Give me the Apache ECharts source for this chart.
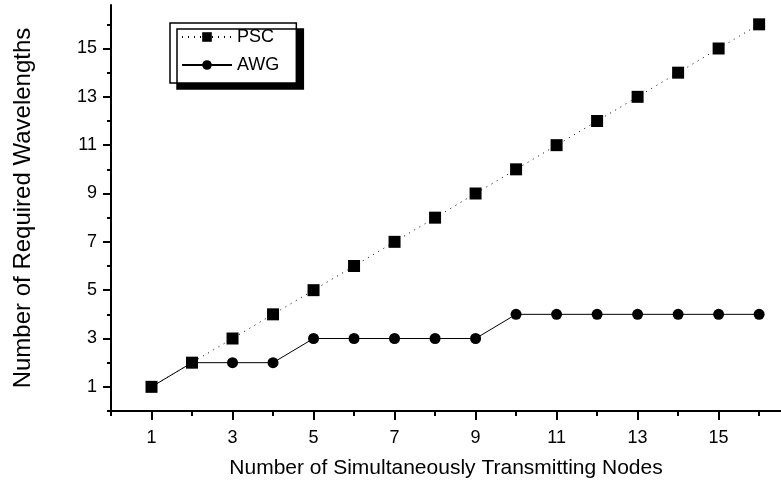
<!DOCTYPE html>
<html>
<head>
<meta charset="utf-8">
<script src="https://cdn.jsdelivr.net/npm/echarts@6/dist/echarts.min.js"></script>
<style>
  html, body { margin: 0; padding: 0; background: #fff; }
  #chart { width: 781px; height: 489px; }
</style>
</head>
<body>
<div id="chart"></div>
<script>
const nodes = [1, 2, 3, 4, 5, 6, 7, 8, 9, 10, 11, 12, 13, 14, 15, 16];
const pscValues = [1, 2, 3, 4, 5, 6, 7, 8, 9, 10, 11, 12, 13, 14, 15, 16];
const awgValues = [1, 2, 2, 2, 3, 3, 3, 3, 3, 4, 4, 4, 4, 4, 4, 4];
const majorTicks = [1, 3, 5, 7, 9, 11, 13, 15];
const minorX = [0, 2, 4, 6, 8, 10, 12, 14, 16];
const minorY = [0, 2, 4, 6, 8, 10, 12, 14, 16];

const font = 'Liberation Sans, Arial, sans-serif';
const pair = function (vals) {
  return nodes.map(function (x, i) { return [x, vals[i]]; });
};

const chartDom = document.getElementById('chart');
const mychart = echarts.init(chartDom);

const hiddenAxis = function (extra) {
  return Object.assign({
    type: 'value',
    gridIndex: 0,
    min: 0,
    interval: 1,
    axisLine: { show: false },
    axisLabel: { show: false },
    splitLine: { show: false },
  }, extra);
};

const option = {
  animation: false,
  grid: { left: 111, right: 0, top: 5, bottom: 78, containLabel: false },
  legend: {
    orient: 'vertical',
    left: 170,
    top: 23,
    padding: [4, 17, 8, 11],
    itemGap: 8,
    itemWidth: 50,
    itemHeight: 12,
    backgroundColor: '#fff',
    borderColor: '#000',
    borderWidth: 1.5,
    borderRadius: 0,
    shadowColor: '#000',
    shadowBlur: 0,
    shadowOffsetX: 7,
    shadowOffsetY: 6,
    textStyle: { fontFamily: font, fontSize: 18, color: '#000', lineHeight: 20 },
    data: ['PSC', 'AWG'],
  },
  xAxis: [{
    type: 'value',
    min: 0,
    max: 16.54,
    interval: 1,
    name: 'Number of Simultaneously Transmitting Nodes',
    nameLocation: 'middle',
    nameGap: 47,
    nameTextStyle: { fontFamily: font, fontSize: 21, color: '#000' },
    axisLine: { onZero: false, lineStyle: { color: '#000', width: 2 } },
    axisTick: { inside: false, length: 9, customValues: majorTicks, lineStyle: { color: '#000', width: 2 } },
    axisLabel: { customValues: majorTicks, fontFamily: font, fontSize: 18, color: '#000', margin: 18, hideOverlap: false },
    splitLine: { show: false },
  }, hiddenAxis({
    max: 16.54,
    position: 'bottom',
    axisTick: { inside: false, length: 5, customValues: minorX, lineStyle: { color: '#000', width: 2 } },
  })],
  yAxis: [{
    type: 'value',
    min: 0,
    max: 16.8,
    interval: 1,
    name: 'Number of Required Wavelengths',
    nameLocation: 'middle',
    nameGap: 76,
    nameTextStyle: { fontFamily: font, fontSize: 24, color: '#000' },
    axisLine: { onZero: false, lineStyle: { color: '#000', width: 2 } },
    axisTick: { inside: false, length: 8, customValues: majorTicks, lineStyle: { color: '#000', width: 2 } },
    axisLabel: { customValues: majorTicks, fontFamily: font, fontSize: 18, color: '#000', margin: 14, hideOverlap: false },
    splitLine: { show: false },
  }, hiddenAxis({
    max: 16.8,
    position: 'left',
    axisTick: { inside: false, length: 4, customValues: minorY, lineStyle: { color: '#000', width: 2 } },
  })],
  series: [{
    name: 'AWG',
    type: 'line',
    data: pair(awgValues),
    symbol: 'circle',
    symbolSize: 11,
    z: 2,
    lineStyle: { color: '#000', width: 1 },
    itemStyle: { color: '#000' },
  }, {
    name: 'PSC',
    type: 'line',
    data: pair(pscValues),
    symbol: 'rect',
    symbolSize: 12,
    z: 3,
    lineStyle: { color: '#000', width: 1, type: [1, 5] },
    itemStyle: { color: '#000' },
  }],
};
mychart.setOption(option);
</script>
</body>
</html>
